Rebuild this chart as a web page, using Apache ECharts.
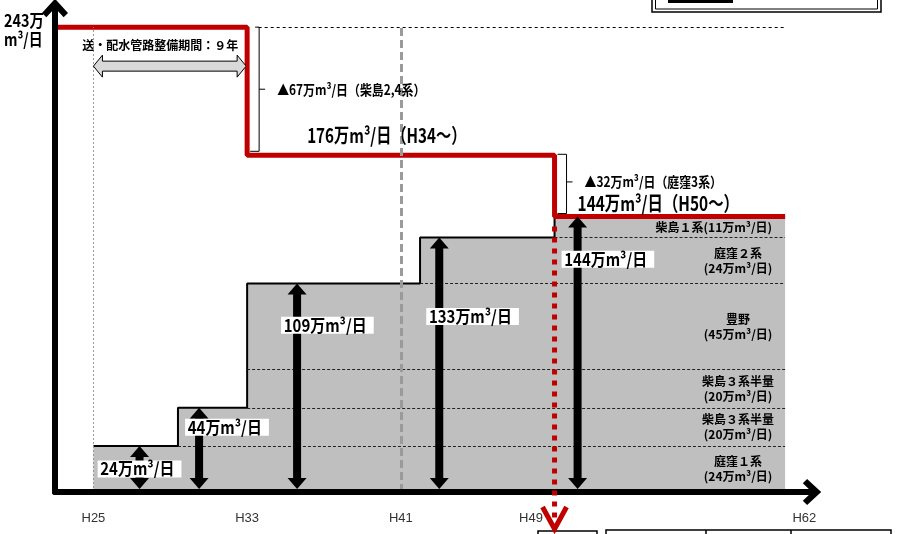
<!DOCTYPE html>
<html>
<head>
<meta charset="utf-8">
<script src="https://cdn.jsdelivr.net/npm/echarts@6/dist/echarts.min.js"></script>
<style>
  html, body { margin: 0; padding: 0; background: #fff; }
  #chart { width: 914px; height: 534px; }
</style>
</head>
<body>
<div id="chart"></div>
<script>
// Fiscal-year ticks on the time axis
const tickYears = [25, 33, 41, 49, 62];
const tickLabels = ['H25', 'H33', 'H41', 'H49', 'H62'];

// Installed treatment capacity (万m³/日), stepping up at each year
const capacityYears = [25, 29.4, 33, 42, 49, 61];
const capacityValues = [24, 44, 109, 133, 144, 144];

// Required supply capacity (万m³/日)
const supplyYears = [23.1, 33, 49, 61];
const supplyValues = [243, 176, 144, 144];

// Plants stacked from the bottom up, with their capacity (万m³/日)
const plantNames = ['庭窪１系', '柴島３系半量', '柴島３系半量', '豊野', '庭窪２系', '柴島１系'];
const plantCapacity = [24, 20, 20, 45, 24, 11];

// Capacity arrows: year where each arrow stands, and its value
const arrowYears = [27.4, 30.5, 35.6, 43.0, 50.2];
const arrowValues = [24, 44, 109, 133, 144];

// Reductions of the supply capacity
const reductionNotes = ['柴島2,4系', '庭窪3系'];
const reductionStart = ['H34', 'H50'];
const constructionNote = '送・配水管路整備期間：９年';
const gridYear = 41;

// ---- layout / style (not data) ----
const CJK = '"Noto Sans CJK JP", "Noto Sans CJK SC", sans-serif';
const LATIN = '"Liberation Sans", Arial, sans-serif';
const RED = '#c00000';
const arrowLabelLayout = [
  { dx: 0, align: 'center', t: 0.5 },
  { dx: -14, align: 'left', t: 0.77 },
  { dx: -16, align: 'left', t: 0.80 },
  { dx: -13, align: 'left', t: 0.69 },
  { dx: -16, align: 'left', t: 0.845 }
];
const CHEVRON = 'path://M12,0 L24,13 L20,17 L12,8.5 L4,17 L0,13 Z';

const chart = echarts.init(document.getElementById('chart'), null, { renderer: 'canvas' });

const endYear = capacityYears[capacityYears.length - 1];

// Dashed lines separating the plants inside the capacity area
const layerLines = [];
let cum = 0;
plantCapacity.slice(0, -1).forEach(function (c) {
  cum += c;
  const k = capacityValues.findIndex(function (v) { return v > cum; });
  layerLines.push([
    { coord: [capacityYears[k], cum], lineStyle: { color: '#222', width: 1, type: [3, 2] } },
    { coord: [endYear, cum] }
  ]);
});
// Dotted start line of the period
layerLines.push([
  { coord: [capacityYears[0], 0], lineStyle: { color: '#9a9a9a', width: 1, type: [2, 2] } },
  { coord: [capacityYears[0], supplyValues[0]] }
]);

// Stack bottoms/tops for the plant labels
const plantItems = [];
let base = 0;
plantCapacity.forEach(function (c, i) {
  plantItems.push([endYear, base, base + c, i]);
  base += c;
});

function renderArrow(params, api) {
  const i = params.dataIndex;
  const v = api.value(1);
  const b = api.coord([api.value(0), 0]);
  const t = api.coord([api.value(0), v]);
  const cx = b[0], yb = b[1] - 3, yt = t[1];
  const s = 4, h = 9.5, L = 11;
  const pts = [[cx, yt], [cx + h, yt + L], [cx + s, yt + L], [cx + s, yb - L], [cx + h, yb - L],
    [cx, yb], [cx - h, yb - L], [cx - s, yb - L], [cx - s, yt + L], [cx - h, yt + L]];
  const lay = arrowLabelLayout[i];
  const ly = b[1] + (t[1] - b[1]) * lay.t;
  return {
    type: 'group',
    children: [
      { type: 'polygon', shape: { points: pts }, style: { fill: '#000' } },
      {
        type: 'text', x: cx + lay.dx, y: ly, scaleX: 0.88,
        style: {
          text: v + '万m³/日', font: 'bold 17px ' + CJK, fill: '#000',
          backgroundColor: '#fff', padding: [0, 8, 0, 3], lineHeight: 17,
          align: lay.align, textAlign: lay.align, verticalAlign: 'middle', textVerticalAlign: 'middle'
        }
      }
    ]
  };
}

function renderPlant(params, api) {
  const i = api.value(3);
  const lo = api.value(1), hi = api.value(2);
  const cap = hi - lo;
  const p = api.coord([api.value(0), (lo + hi) / 2]);
  const single = cap < 15;
  const text = single
    ? plantNames[i] + '(' + cap + '万m³/日)'
    : plantNames[i] + '\n(' + cap + '万m³/日)';
  const align = single ? 'right' : 'center';
  return {
    type: 'text', x: single ? p[0] - 13 : p[0] - 47, y: p[1],
    style: {
      text: text, font: 'bold 12px ' + CJK, fill: '#000', lineHeight: 15,
      align: align, textAlign: align, verticalAlign: 'middle', textVerticalAlign: 'middle'
    }
  };
}

function renderDrop(params, api) {
  const top = api.coord([api.value(0), api.value(1)]);
  const axis = api.coord([api.value(0), 0]);
  const x = top[0];
  const tipY = axis[1] + 39;
  return {
    type: 'group',
    children: [
      { type: 'line', shape: { x1: x, y1: top[1] + 10, x2: x, y2: tipY - 8 },
        style: { stroke: RED, lineWidth: 5, lineDash: [5, 6] } },
      { type: 'polyline', shape: { points: [[x - 12, tipY - 24], [x, tipY - 2], [x + 12, tipY - 24]] },
        style: { stroke: RED, lineWidth: 5, fill: null } }
    ]
  };
}

const option = {
  animation: false,
  backgroundColor: '#fff',
  grid: { left: 55, right: 102, top: 8, bottom: 42, containLabel: false },
  xAxis: {
    type: 'value', min: 23, max: 62.4, z: 5,
    axisLine: { show: true, onZero: false, symbol: ['none', CHEVRON], symbolSize: [26, 24],
      lineStyle: { color: '#000', width: 6 } },
    axisTick: { show: false },
    splitLine: { show: false },
    axisLabel: {
      customValues: tickYears,
      margin: 20, color: '#333', fontSize: 13, fontFamily: LATIN,
      formatter: function (v) {
        const i = tickYears.indexOf(v);
        if (i < 0) return '';
        return tickYears[i] === 49 ? '{shift|' + tickLabels[i] + '}' : tickLabels[i];
      },
      rich: { shift: { padding: [0, 47, 0, 0], color: '#333', fontSize: 13, fontFamily: LATIN } }
    }
  },
  yAxis: {
    type: 'value', min: 0, max: 253, z: 5,
    axisLine: { show: true, onZero: false, symbol: ['none', CHEVRON], symbolSize: [26, 19],
      lineStyle: { color: '#000', width: 6 } },
    axisTick: { show: false },
    axisLabel: { show: false },
    splitLine: { show: false }
  },
  series: [
    {
      name: 'capacity', type: 'line', step: 'end', z: 2,
      data: capacityYears.map(function (x, i) { return [x, capacityValues[i]]; }),
      symbol: 'none',
      lineStyle: { color: '#000', width: 2 },
      areaStyle: { color: '#bfbfbf', opacity: 1 },
      markLine: { silent: true, symbol: 'none', label: { show: false }, animation: false, data: layerLines }
    },
    {
      name: 'supply', type: 'line', step: 'end', z: 4,
      data: supplyYears.map(function (x, i) { return [x, supplyValues[i]]; }),
      symbol: 'none',
      lineStyle: { color: RED, width: 5 },
      markLine: {
        silent: true, symbol: 'none', label: { show: false }, animation: false,
        data: [
          [{ coord: [gridYear, 0], lineStyle: { color: '#9a9a9a', width: 3, type: [8, 4] } },
           { coord: [gridYear, supplyValues[0]] }],
          [{ coord: [supplyYears[1] + 0.6, supplyValues[0]], lineStyle: { color: '#000', width: 1, type: [3, 3] } },
           { coord: [endYear, supplyValues[0]] }]
        ]
      }
    },
    {
      name: 'arrows', type: 'custom', z: 5,
      data: arrowYears.map(function (x, i) { return [x, arrowValues[i]]; }),
      renderItem: renderArrow
    },
    {
      name: 'plants', type: 'custom', z: 5,
      data: plantItems,
      encode: { x: 0, y: 2 },
      renderItem: renderPlant
    },
    {
      name: 'drop', type: 'custom', z: 6,
      data: [[supplyYears[2], supplyValues[2]]],
      renderItem: renderDrop
    }
  ]
};

chart.setOption(option);

// Annotations placed from the same scales
const P = function (x, y) { return chart.convertToPixel({ seriesIndex: 0 }, [x, y]); };
const yTop = P(25, supplyValues[0])[1];
const y176 = P(25, supplyValues[1])[1];
const y144 = P(25, supplyValues[2])[1];
const xStart = P(capacityYears[0], 0)[0];
const xStep1 = P(supplyYears[1], 0)[0];
const xStep2 = P(supplyYears[2], 0)[0];

function txt(text, x, y, size, scale, align) {
  const a = align || 'left';
  return {
    type: 'text', x: x, y: y, scaleX: scale, z: 20, silent: true,
    style: { text: text, font: 'bold ' + size + 'px ' + CJK, fill: '#000',
      align: a, textAlign: a, verticalAlign: 'middle', textVerticalAlign: 'middle' }
  };
}

function stroke(points) {
  return { type: 'polyline', z: 20, silent: true, shape: { points: points },
    style: { stroke: '#000', lineWidth: 1, fill: null } };
}

const ay = yTop + 39;
const bx1 = xStep1 + 12, ym1 = (yTop + y176) / 2 - 2;
const bx2 = xStep2 + 12, ym2 = (y176 + y144) / 2 - 4;

const graphics = [
  // unit label on the vertical axis
  txt(supplyValues[0] + '万', 4, yTop - 7, 17, 0.85),
  txt('m³/日', 4, yTop + 12, 17, 0.82),
  // construction period
  txt(constructionNote, xStep1 - 9, yTop + 18, 12, 1, 'right'),
  {
    type: 'polygon', z: 20, silent: true,
    shape: { points: [
      [xStart, ay], [xStart + 9, ay - 11], [xStart + 9, ay - 5], [xStep1 - 10, ay - 5], [xStep1 - 10, ay - 11],
      [xStep1 - 1, ay], [xStep1 - 10, ay + 11], [xStep1 - 10, ay + 5], [xStart + 9, ay + 5], [xStart + 9, ay + 11]
    ] },
    style: { fill: '#d9d9d9', stroke: '#000', lineWidth: 1 }
  },
  // first reduction
  stroke([[bx1 - 4, yTop], [bx1, yTop], [bx1, y176 - 4], [bx1 - 9, y176 - 4]]),
  stroke([[bx1, ym1], [bx1 + 6, ym1]]),
  txt('▲' + (supplyValues[0] - supplyValues[1]) + '万m³/日（' + reductionNotes[0] + '）', bx1 + 18, ym1, 14, 0.85),
  txt(supplyValues[1] + '万m³/日（' + reductionStart[0] + '〜）', xStep1 + 60, y176 - 20, 20, 0.76),
  // second reduction
  stroke([[xStep2 + 3, y176 - 1], [bx2, y176 - 1], [bx2, y144 - 3], [bx2 - 9, y144 - 3]]),
  stroke([[bx2, ym2], [bx2 + 6, ym2]]),
  txt('▲' + (supplyValues[1] - supplyValues[2]) + '万m³/日（' + reductionNotes[1] + '）', bx2 + 18, ym2, 14, 0.85),
  txt(supplyValues[2] + '万m³/日（' + reductionStart[1] + '〜）', xStep2 + 23, y144 - 13, 20, 0.77),
  // framed box at the top right
  { type: 'rect', silent: true, shape: { x: 652, y: -20, width: 229, height: 32 },
    style: { fill: '#fff', stroke: '#000', lineWidth: 1.5 } },
  { type: 'rect', silent: true, shape: { x: 655.5, y: -20, width: 222, height: 29 },
    style: { fill: null, stroke: '#000', lineWidth: 1 } },
  { type: 'rect', silent: true, shape: { x: 668, y: -2, width: 65, height: 5 }, style: { fill: '#000' } },
  // table frames below the axis
  { type: 'rect', silent: true, shape: { x: 538, y: 531, width: 59, height: 20 },
    style: { fill: null, stroke: '#000', lineWidth: 1.5 } },
  { type: 'rect', silent: true, shape: { x: 606, y: 530, width: 285, height: 20 },
    style: { fill: null, stroke: '#000', lineWidth: 1.5 } },
  { type: 'line', silent: true, shape: { x1: 706, y1: 530, x2: 706, y2: 540 }, style: { stroke: '#000', lineWidth: 1.5 } },
  { type: 'line', silent: true, shape: { x1: 791, y1: 530, x2: 791, y2: 540 }, style: { stroke: '#000', lineWidth: 1.5 } }
];

chart.setOption({ graphic: { elements: graphics } });
</script>
</body>
</html>
